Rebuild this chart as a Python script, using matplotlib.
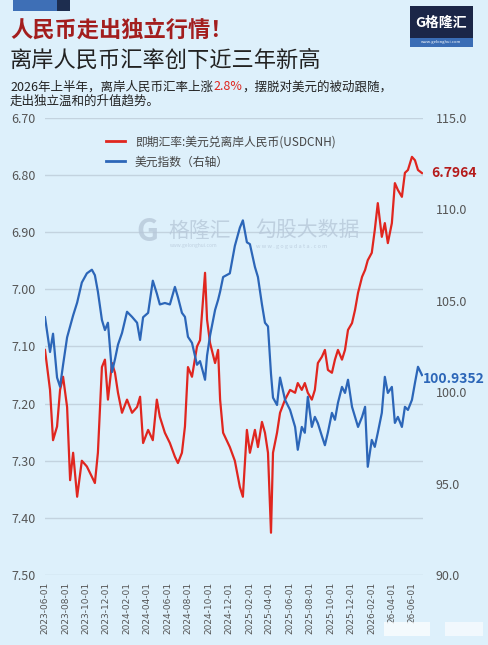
import pandas as pd
import matplotlib
matplotlib.use("Agg")
from matplotlib import pyplot as plt
from matplotlib.patches import Rectangle
from matplotlib.lines import Line2D

plt.rcParams['font.family'] = ['Noto Sans CJK SC', 'DejaVu Sans']

# ---- data ----
dates = [
    "2023-06-01", "2023-06-16", "2023-06-25", "2023-07-07", "2023-07-16", "2023-07-25", "2023-08-06", "2023-08-15", "2023-08-24", "2023-09-05",
    "2023-09-19", "2023-10-04", "2023-10-19", "2023-10-28", "2023-11-06", "2023-11-18", "2023-11-27", "2023-12-06", "2023-12-18", "2023-12-27",
    "2024-01-05", "2024-01-17", "2024-02-01", "2024-02-16", "2024-03-02", "2024-03-11", "2024-03-20", "2024-04-04", "2024-04-18", "2024-04-30",
    "2024-05-09", "2024-05-24", "2024-06-08", "2024-06-23", "2024-07-02", "2024-07-14", "2024-07-23", "2024-08-01", "2024-08-13", "2024-08-28",
    "2024-09-06", "2024-09-15", "2024-09-21", "2024-09-27", "2024-10-06", "2024-10-21", "2024-10-30", "2024-11-05", "2024-11-14", "2024-12-04",
    "2024-12-19", "2025-01-03", "2025-01-12", "2025-01-24", "2025-02-02", "2025-02-17", "2025-02-26", "2025-03-10", "2025-03-19", "2025-03-28",
    "2025-04-06", "2025-04-12", "2025-04-24", "2025-05-03", "2025-05-18", "2025-06-02", "2025-06-17", "2025-06-25", "2025-07-07", "2025-07-16",
    "2025-07-25", "2025-08-06", "2025-08-15", "2025-08-24", "2025-09-05", "2025-09-14", "2025-09-23", "2025-10-05", "2025-10-14", "2025-10-23",
    "2025-11-04", "2025-11-13", "2025-11-22", "2025-12-04", "2025-12-13", "2025-12-22", "2026-01-03", "2026-01-12", "2026-01-20", "2026-02-01",
    "2026-02-10", "2026-02-19", "2026-03-03", "2026-03-12", "2026-03-21", "2026-04-02", "2026-04-11", "2026-04-20", "2026-05-02", "2026-05-11",
    "2026-05-20", "2026-06-01", "2026-06-10", "2026-06-19", "2026-07-01",
]

usdcnh = [
    7.106, 7.176, 7.264, 7.240, 7.176, 7.153, 7.206, 7.334, 7.286, 7.363,
    7.300, 7.310, 7.328, 7.339, 7.286, 7.136, 7.123, 7.193, 7.129, 7.146,
    7.181, 7.216, 7.193, 7.216, 7.206, 7.188, 7.269, 7.246, 7.264, 7.193,
    7.223, 7.251, 7.269, 7.293, 7.304, 7.286, 7.240, 7.136, 7.153, 7.100,
    7.089, 7.018, 6.971, 7.053, 7.094, 7.129, 7.106, 7.193, 7.251, 7.276,
    7.300, 7.346, 7.363, 7.246, 7.286, 7.246, 7.276, 7.232, 7.251, 7.286,
    7.426, 7.286, 7.251, 7.216, 7.193, 7.176, 7.181, 7.164, 7.176, 7.164,
    7.181, 7.193, 7.176, 7.129, 7.118, 7.106, 7.141, 7.146, 7.123, 7.106,
    7.123, 7.106, 7.071, 7.059, 7.036, 7.006, 6.978, 6.966, 6.949, 6.936,
    6.896, 6.849, 6.908, 6.884, 6.919, 6.884, 6.814, 6.826, 6.838, 6.796,
    6.791, 6.768, 6.774, 6.791, 6.7964,
]

dxy = [
    104.1, 102.2, 103.2, 100.8, 100.3, 101.5, 103.0, 103.6, 104.2, 104.9,
    106.0, 106.5, 106.7, 106.4, 105.5, 103.95, 103.4, 103.8, 101.1, 101.8,
    102.6, 103.24, 104.4, 104.12, 103.8, 102.86, 104.1, 104.34, 106.1, 105.4,
    104.8, 104.88, 104.8, 105.76, 105.2, 104.34, 104.12, 103.03, 102.7, 101.5,
    101.7, 101.1, 100.68, 102.0, 103.1, 104.5, 105.05, 105.5, 106.3, 106.5,
    108.0, 109.0, 109.4, 108.2, 108.1, 106.85, 106.3, 104.8, 103.8, 103.6,
    101.0, 99.7, 99.3, 100.8, 99.58, 99.03, 98.1, 96.85, 98.1, 97.78,
    99.75, 98.1, 98.65, 98.3, 97.6, 97.1, 97.8, 98.87, 98.49, 99.42,
    100.29, 99.96, 100.68, 99.2, 98.65, 98.1, 98.65, 99.2, 95.92, 97.39,
    97.01, 97.78, 98.87, 100.84, 99.96, 100.29, 98.32, 98.65, 98.1, 99.2,
    99.03, 99.58, 100.51, 101.39, 100.9352,
]

tick_dates = [
    "2023-06-01", "2023-08-01", "2023-10-01", "2023-12-01", "2024-02-01", "2024-04-01", "2024-06-01",
    "2024-08-01", "2024-10-01", "2024-12-01", "2025-02-01", "2025-04-01", "2025-06-01", "2025-08-01",
    "2025-10-01", "2025-12-01", "2026-02-01", "2026-04-01", "2026-06-01",
]
tick_labels = tick_dates[:-2] + ["26-04-01", "26-06-01"]

left_ticks = [6.70, 6.80, 6.90, 7.00, 7.10, 7.20, 7.30, 7.40, 7.50]
right_ticks = [90.0, 95.0, 100.0, 105.0, 110.0, 115.0]

# ---- styling ----
BG = '#ddf0fb'
RED = '#e0261f'
BLUE = '#2c66b8'
GRID = '#c3d3df'
TICK = '#555555'

W, H = 489, 645
fig = plt.figure(figsize=(W / 100, H / 100), dpi=100)
fig.patch.set_facecolor(BG)


def fx(px):
    return px / W


def fy(py):
    return 1 - py / H


# decorative header pieces
fig.patches.append(Rectangle((fx(13), fy(11)), fx(44), 11 / H, transform=fig.transFigure,
                             facecolor='#3e6fb6', edgecolor='none'))
fig.patches.append(Rectangle((fx(57), fy(11)), fx(13), 11 / H, transform=fig.transFigure,
                             facecolor='#1d2d4f', edgecolor='none'))
# logo box
fig.patches.append(Rectangle((fx(410), fy(47)), fx(63), 41 / H, transform=fig.transFigure,
                             facecolor='#1b2647', edgecolor='none'))
fig.patches.append(Rectangle((fx(410), fy(47)), fx(63), 9 / H, transform=fig.transFigure,
                             facecolor='#3a6db5', edgecolor='none'))
fig.text(fx(441), fy(23), 'G格隆汇', color='white', fontsize=10, weight='bold', ha='center', va='center')
fig.text(fx(441), fy(42.5), 'www.gelonghui.com', color='white', fontsize=3, ha='center', va='center')

fig.text(fx(10), fy(30), '人民币走出独立行情！', fontsize=16, weight='bold', color='#a31e1e', va='center')
fig.text(fx(10), fy(60), '离岸人民币汇率创下近三年新高', fontsize=16, color='#222222', va='center')

# description line with the red percentage
fig.canvas.draw()
r = fig.canvas.get_renderer()
x0 = fx(10)
for part, col in [('2026年上半年，离岸人民币汇率上涨', '#222222'), ('2.8%', RED),
                  ('，摆脱对美元的被动跟随，', '#222222')]:
    t = fig.text(x0, fy(87), part, fontsize=9, color=col, va='center')
    bb = t.get_window_extent(renderer=r)
    x0 = x0 + bb.width / W
fig.text(fx(10), fy(101), '走出独立温和的升值趋势。', fontsize=9, color='#222222', va='center')

# ---- axes ----
ax = fig.add_axes([fx(45), fy(575), fx(423 - 45), (575 - 118) / H])
ax.set_facecolor('none')
ax2 = ax.twinx()

x = pd.to_datetime(dates)
ax.plot(x, usdcnh, color=RED, lw=1.6, zorder=3)
ax2.plot(x, dxy, color=BLUE, lw=1.6, zorder=3)

ax.set_ylim(7.50, 6.70)
ax2.set_ylim(90, 115)
ax.set_xlim(pd.Timestamp("2023-06-01"), pd.Timestamp("2026-07-04"))

ax.set_yticks(left_ticks)
ax.set_yticklabels([f'{v:.2f}' for v in left_ticks])
ax2.set_yticks(right_ticks)
ax2.set_yticklabels([f'{v:.1f}' for v in right_ticks])
ax.set_xticks(pd.to_datetime(tick_dates))
ax.set_xticklabels(tick_labels, rotation=90, fontsize=6.5, color=TICK, family='DejaVu Sans')

ax.yaxis.grid(True, color=GRID, lw=1)
ax.set_axisbelow(True)
for a in (ax, ax2):
    for s in a.spines.values():
        s.set_visible(False)
    a.tick_params(length=0)
ax.tick_params(axis='y', labelsize=9, labelcolor=TICK, pad=7)
ax2.tick_params(axis='y', labelsize=9, labelcolor=TICK, pad=9)
ax.tick_params(axis='x', pad=5)

# legend
handles = [Line2D([], [], color=RED, lw=2), Line2D([], [], color=BLUE, lw=2)]
ax2.legend(handles, ['即期汇率:美元兑离岸人民币(USDCNH)', '美元指数（右轴）'],
           loc='upper left', bbox_to_anchor=(fx(100) / ax.get_position().width - 0.13, 0.985),
           frameon=False, fontsize=8.5, handlelength=1.6, labelspacing=0.6, labelcolor='#444444')

# end value labels
fig.text(fx(431), fy(173), '6.7964', color='#b51c1c', fontsize=10, weight='bold', va='center')
fig.text(fx(423), fy(379), '100.9352', color=BLUE, fontsize=10, weight='bold', va='center')

# watermarks
fig.text(fx(136), fy(232), 'G', color='#b7c8d9', fontsize=22, weight='bold', va='center', alpha=0.8)
fig.text(fx(168), fy(231), '格隆汇', color='#b7c8d9', fontsize=15, va='center', alpha=0.8)
fig.text(fx(170), fy(245), 'www.gelonghui.com', color='#b7c8d9', fontsize=3.5, va='center', alpha=0.8)
fig.text(fx(255), fy(230), '勾股大数据', color='#b7c8d9', fontsize=15, va='center', alpha=0.8)
fig.text(fx(256), fy(247), 'w w w . g o g u d a t a . c o m', color='#b7c8d9', fontsize=4, va='center', alpha=0.8)

# blurred platform watermark bottom right
fig.patches.append(Rectangle((fx(384), fy(636)), fx(46), 14 / H, transform=fig.transFigure,
                             facecolor='white', edgecolor='none', alpha=0.7))
fig.patches.append(Rectangle((fx(445), fy(636)), fx(38), 14 / H, transform=fig.transFigure,
                             facecolor='white', edgecolor='none', alpha=0.6))

fig.savefig('out.png', dpi=100, facecolor=BG)
